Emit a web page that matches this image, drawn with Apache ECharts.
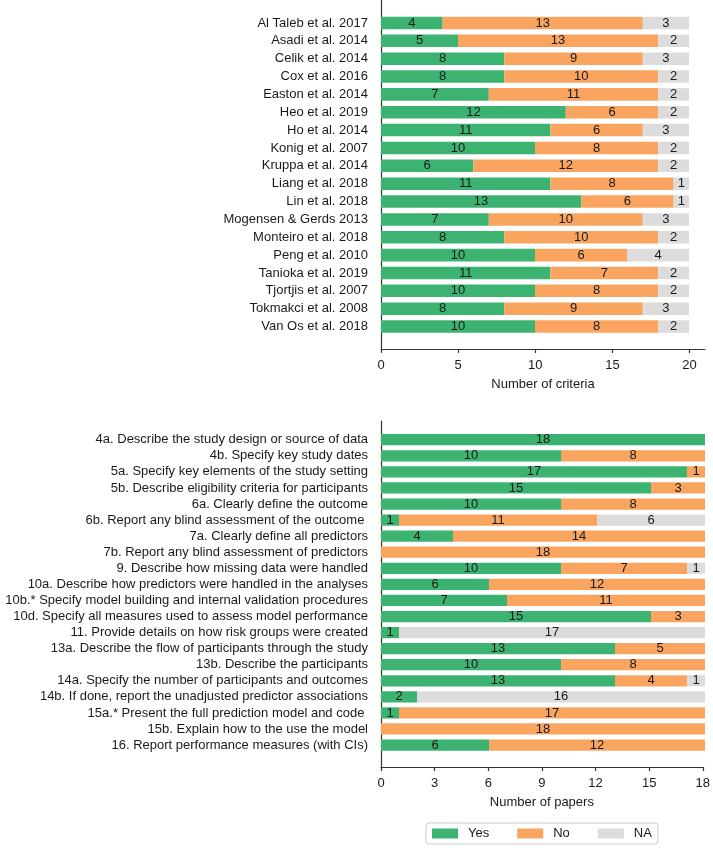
<!DOCTYPE html>
<html>
<head>
<meta charset="utf-8">
<script src="https://cdn.jsdelivr.net/npm/echarts@6/dist/echarts.min.js"></script>
<style>
html,body{margin:0;padding:0;background:#fff;}
#chart{width:713px;height:848px;}
</style>
</head>
<body>
<div id="chart"></div>
<script>
const studies = ["Al Taleb et al. 2017","Asadi et al. 2014","Celik et al. 2014","Cox et al. 2016","Easton et al. 2014","Heo et al. 2019","Ho et al. 2014","Konig et al. 2007","Kruppa et al. 2014","Liang et al. 2018","Lin et al. 2018","Mogensen & Gerds 2013","Monteiro et al. 2018","Peng et al. 2010","Tanioka et al. 2019","Tjortjis et al. 2007","Tokmakci et al. 2008","Van Os et al. 2018"];
const studyYes = [4,5,8,8,7,12,11,10,6,11,13,7,8,10,11,10,8,10];
const studyNo  = [13,13,9,10,11,6,6,8,12,8,6,10,10,6,7,8,9,8];
const studyNA  = [3,2,3,2,2,2,3,2,2,1,1,3,2,4,2,2,3,2];

const criteria = ["4a. Describe the study design or source of data","4b. Specify key study dates","5a. Specify key elements of the study setting","5b. Describe eligibility criteria for participants","6a. Clearly define the outcome","6b. Report any blind assessment of the outcome ","7a. Clearly define all predictors","7b. Report any blind assessment of predictors","9. Describe how missing data were handled","10a. Describe how predictors were handled in the analyses","10b.* Specify model building and internal validation procedures","10d. Specify all measures used to assess model performance","11. Provide details on how risk groups were created","13a. Describe the flow of participants through the study","13b. Describe the participants","14a. Specify the number of participants and outcomes","14b. If done, report the unadjusted predictor associations","15a.* Present the full prediction model and code ","15b. Explain how to the use the model","16. Report performance measures (with CIs)"];
const critYes = [18,10,17,15,10,1,4,0,10,6,7,15,1,13,10,13,2,1,0,6];
const critNo  = [0,8,1,3,8,11,14,18,7,12,11,3,0,5,8,4,0,17,18,12];
const critNA  = [0,0,0,0,0,6,0,0,1,0,0,0,17,0,0,1,16,0,0,0];

const topTicks = [0,5,10,15,20];
const bottomTicks = [0,3,6,9,12,15,18];

const FONT = "'Liberation Sans', Arial, Helvetica, sans-serif";
const COLORS = {Yes:'#3cb371', No:'#f9a45f', NA:'#dcdcdc'};
const lineStyle = {color:'#333', width:1.2};

function barSeries(name, data, axisIdx, stack){
  return {
    name, type:'bar', stack, data,
    xAxisIndex: axisIdx, yAxisIndex: axisIdx,
    barWidth:'70%',
    itemStyle:{color:COLORS[name]},
    label:{show:true, position:'inside', color:'#1a1a1a', fontSize:13, fontFamily:FONT,
      formatter:p => p.value === 0 ? '' : String(p.value)},
    emphasis:{disabled:true},
    animation:false
  };
}

function catAxis(gridIndex, cats){
  return {type:'category', gridIndex, data:cats, inverse:true,
    axisLine:{show:false}, axisTick:{show:false},
    axisLabel:{margin:13, fontSize:13, color:'#1a1a1a', fontFamily:FONT, interval:0}};
}
function hiddenVal(gridIndex, max){
  return {type:'value', gridIndex, min:0, max, show:false, splitLine:{show:false}};
}
function frameX(gridIndex, max, ticks, name, interval){
  return {type:'value', gridIndex, min:0, max, interval,
    name, nameLocation:'middle', nameGap:29,
    nameTextStyle:{fontSize:13, color:'#1a1a1a', fontFamily:FONT},
    axisLine:{show:true, lineStyle},
    axisTick:{show:true, length:4, lineStyle, customValues:ticks},
    axisLabel:{margin:10, fontSize:13, color:'#1a1a1a', fontFamily:FONT, customValues:ticks},
    splitLine:{show:false}};
}
function frameY(gridIndex){
  return {type:'value', gridIndex, min:0, max:1,
    axisLine:{show:true, lineStyle}, axisTick:{show:false}, axisLabel:{show:false}, splitLine:{show:false}};
}

const chart = echarts.init(document.getElementById('chart'), null, {renderer:'canvas'});
chart.setOption({
  animation:false,
  backgroundColor:'#fff',
  textStyle:{fontFamily:FONT},
  grid:[
    {left:381, top:14, width:308, height:321.5},
    {left:381, top:0, width:324, height:349},
    {left:381, top:431.7, width:324, height:321.4},
    {left:381, top:421, width:324, height:346}
  ],
  xAxis:[
    hiddenVal(0, 20),
    frameX(1, 21, topTicks, 'Number of criteria', 5),
    hiddenVal(2, 18),
    frameX(3, 18, bottomTicks, 'Number of papers', 3)
  ],
  yAxis:[
    catAxis(0, studies),
    frameY(1),
    catAxis(2, criteria),
    frameY(3)
  ],
  legend:{
    data:['Yes','No','NA'],
    left:426, top:823,
    orient:'horizontal',
    icon:'rect', itemWidth:26, itemHeight:10, itemGap:28,
    padding:[4,6,4,6],
    borderColor:'#cccccc', borderWidth:1, borderRadius:3,
    textStyle:{fontSize:13, color:'#1a1a1a', fontFamily:FONT, padding:[0,0,0,5]},
    selectedMode:false
  },
  series:[
    barSeries('Yes', studyYes, 0, 'top'),
    barSeries('No', studyNo, 0, 'top'),
    barSeries('NA', studyNA, 0, 'top'),
    barSeries('Yes', critYes, 2, 'bottom'),
    barSeries('No', critNo, 2, 'bottom'),
    barSeries('NA', critNA, 2, 'bottom')
  ]
});
</script>
</body>
</html>
